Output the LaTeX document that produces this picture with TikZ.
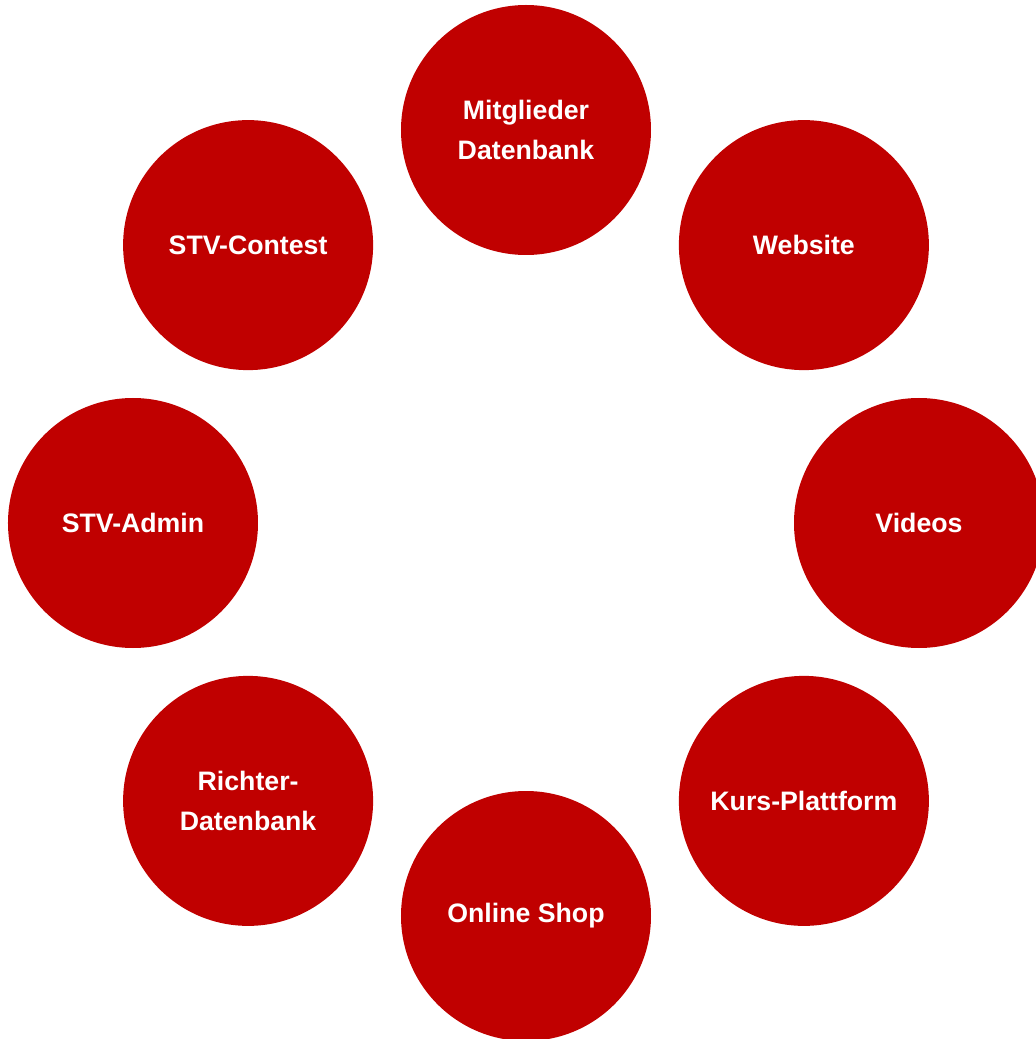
\documentclass[tikz,border=0pt]{standalone}
\usepackage{fontspec}
\setmainfont{Liberation Sans}
\usepackage{tikz}
\definecolor{stvred}{RGB}{192, 0, 0}

\begin{document}
\begin{tikzpicture}[x=1pt, y=1pt,
  bubble/.style={circle, fill=stvred, text=white, minimum size=250pt, inner sep=0pt,
                 align=center, font=\fontsize{26.7}{40}\selectfont\bfseries}]

  \useasboundingbox (-526, -516) rectangle (510, 523);
  \clip (-526, -516) rectangle (510, 523);

  \foreach \name/\ang/\txt in {mitglieder/90/{Mitglieder\\Datenbank},
                               website/45/Website,
                               videos/0/Videos,
                               kurs/-45/Kurs-Plattform,
                               shop/-90/Online Shop,
                               richter/-135/{Richter-\\Datenbank},
                               admin/180/STV-Admin,
                               contest/135/STV-Contest}
    \node [bubble] (\name) at (\ang:393) {\txt};

\end{tikzpicture}
\end{document}
